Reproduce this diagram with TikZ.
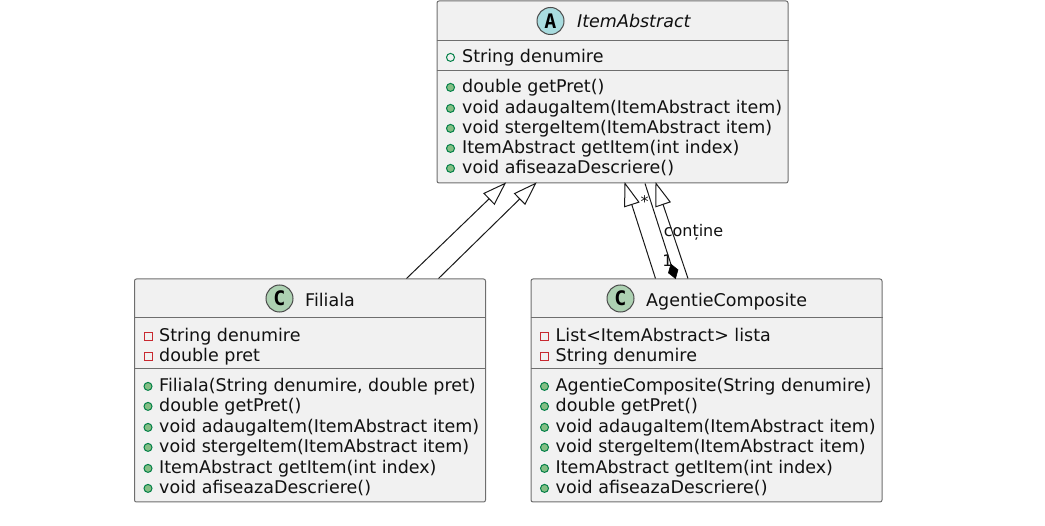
\documentclass[tikz,border=0pt]{standalone}
\usepackage{fontspec}
\setmainfont{DejaVu Sans}
\newfontfamily\iconfont{DejaVu Sans Mono}
\usetikzlibrary{calc}
\definecolor{boxfill}{HTML}{F1F1F1}
\definecolor{boxline}{HTML}{6E6E6E}
\definecolor{txt}{HTML}{111111}
\definecolor{pubc}{HTML}{038048}
\definecolor{pubf}{HTML}{84BE84}
\definecolor{privc}{HTML}{C82930}
\definecolor{iconc}{HTML}{ADD1B2}
\definecolor{icona}{HTML}{A9DCDF}
\newcommand{\rowfont}{\fontsize{17.5}{20}\selectfont}
\tikzset{
  x=1pt,y=-1pt,
  classbox/.style={draw=boxline,fill=boxfill,line width=1pt,rounded corners=2pt,inner sep=0pt,minimum width=351pt},
  divider/.style={draw=boxline,line width=1pt},
  rowtext/.style={anchor=base west,inner sep=0pt,text=txt,font=\rowfont},
  titletext/.style={anchor=base west,inner sep=0pt,text=txt,font=\rowfont},
  badge/.style={circle,draw=black!70,line width=1pt,minimum size=27pt,inner sep=0pt,font=\iconfont\bfseries\fontsize{20}{20}\selectfont},
  pubfield/.style={circle,draw=pubc,line width=1pt,minimum size=8pt,inner sep=0pt},
  pubmethod/.style={circle,draw=pubc,fill=pubf,line width=1pt,minimum size=8pt,inner sep=0pt},
  privfield/.style={rectangle,draw=privc,line width=1pt,minimum size=8pt,inner sep=0pt},
  link/.style={draw=black!90,line width=1pt},
  headshape/.style={draw=black!90,fill=white,line width=1pt,line join=miter},
  cardlabel/.style={inner sep=0pt,text=txt,font=\fontsize{16}{18}\selectfont},
}
% \rowitem{name}{icon style}{icon x}{text x}{baseline y}{text}
\newcommand{\rowitem}[6]{%
  \node[#2] (#1i) at (#3,#5-4.6) {};
  \node[rowtext] (#1) at (#4,#5+0.7) {#6};
}
% hollow triangle at end (tip) coming from (from)
\newcommand{\hollowhead}[2]{%
  \path[headshape] (#2) -- ($(#2)!22pt!(#1)!7.5pt!90:(#1)$) -- ($(#2)!22pt!(#1)!7.5pt!-90:(#1)$) -- cycle;
}
\begin{document}
\begin{tikzpicture}
\useasboundingbox (0,0) rectangle (1045,526);

% ---------- boxes
\node[classbox,minimum height=182pt] (item) at (612.5,92) {};
\node[classbox,minimum height=223pt] (fil) at (310,390.5) {};
\node[classbox,minimum height=223pt] (age) at (706.5,390.5) {};

\draw[divider] ($(item.north west)+(0,40.5)$) -- ($(item.north east)+(0,40.5)$);
\draw[divider] ($(item.north west)+(0,70)$) -- ($(item.north east)+(0,70)$);
\draw[divider] ($(fil.north west)+(0,39.5)$) -- ($(fil.north east)+(0,39.5)$);
\draw[divider] ($(fil.north west)+(0,90)$) -- ($(fil.north east)+(0,90)$);
\draw[divider] ($(age.north west)+(0,39.5)$) -- ($(age.north east)+(0,39.5)$);
\draw[divider] ($(age.north west)+(0,90)$) -- ($(age.north east)+(0,90)$);

% ---------- titles
\node[badge,fill=icona] (itemb) at (550.5,21) {A};
\node[titletext,font=\rowfont\itshape] (itemt) at (577,27.7) {ItemAbstract};
\node[badge,fill=iconc] (filb) at (279.5,298.5) {C};
\node[titletext] (filt) at (305,306.7) {Filiala};
\node[badge,fill=iconc] (ageb) at (620.5,298.5) {C};
\node[titletext] (aget) at (646,306.7) {AgentieComposite};

% ---------- ItemAbstract rows
\rowitem{ia}{pubfield}{450.5}{462}{62}{String denumire}
\rowitem{ib}{pubmethod}{450.5}{462}{92}{double getPret()}
\rowitem{ic}{pubmethod}{450.5}{462}{113}{void adaugaItem(ItemAbstract item)}
\rowitem{id}{pubmethod}{450.5}{462}{133}{void stergeItem(ItemAbstract item)}
\rowitem{ie}{pubmethod}{450.5}{462}{153}{ItemAbstract getItem(int index)}
\rowitem{if}{pubmethod}{450.5}{462}{173}{void afiseazaDescriere()}

% ---------- Filiala rows
\rowitem{fa}{privfield}{148}{159}{341}{String denumire}
\rowitem{fb}{privfield}{148}{159}{361}{double pret}
\rowitem{fc}{pubmethod}{148}{159}{391}{Filiala(String denumire, double pret)}
\rowitem{fd}{pubmethod}{148}{159}{411}{double getPret()}
\rowitem{fe}{pubmethod}{148}{159}{432}{void adaugaItem(ItemAbstract item)}
\rowitem{ff}{pubmethod}{148}{159}{452}{void stergeItem(ItemAbstract item)}
\rowitem{fg}{pubmethod}{148}{159}{473}{ItemAbstract getItem(int index)}
\rowitem{fh}{pubmethod}{148}{159}{493}{void afiseazaDescriere()}

% ---------- AgentieComposite rows
\rowitem{aa}{privfield}{544.5}{555.5}{341}{List<ItemAbstract> lista}
\rowitem{ab}{privfield}{544.5}{555.5}{361}{String denumire}
\rowitem{ac}{pubmethod}{544.5}{555.5}{391}{AgentieComposite(String denumire)}
\rowitem{ad}{pubmethod}{544.5}{555.5}{411}{double getPret()}
\rowitem{ae}{pubmethod}{544.5}{555.5}{432}{void adaugaItem(ItemAbstract item)}
\rowitem{af}{pubmethod}{544.5}{555.5}{452}{void stergeItem(ItemAbstract item)}
\rowitem{ag}{pubmethod}{544.5}{555.5}{473}{ItemAbstract getItem(int index)}
\rowitem{ah}{pubmethod}{544.5}{555.5}{493}{void afiseazaDescriere()}

% ---------- connector ends on the boxes
\coordinate (f1) at ($(fil.north west)+(272.5,0)$);
\coordinate (f2) at ($(fil.north west)+(304.5,0)$);
\coordinate (t1) at ($(item.south west)+(68.5,0)$);
\coordinate (t2) at ($(item.south west)+(99,0)$);
\coordinate (a1) at ($(age.north west)+(125,0)$);
\coordinate (a2) at ($(age.north west)+(157.5,0)$);
\coordinate (a3) at ($(age.north west)+(145,0)$);
\coordinate (t3) at ($(item.south west)+(188.5,0)$);
\coordinate (t4) at ($(item.south west)+(219.5,0)$);
\coordinate (t5) at ($(item.south west)+(208.5,0)$);

% ---------- generalisations
\draw[link] (f1) -- (t1);
\hollowhead{f1}{t1}
\draw[link] (f2) -- (t2);
\hollowhead{f2}{t2}
\draw[link] (a1) -- (t3);
\hollowhead{a1}{t3}
\draw[link] (a2) -- (t4);
\hollowhead{a2}{t4}

% ---------- composition
\draw[link] (t5) -- (a3);
\path[draw=black,fill=black,line width=0.6pt,line join=miter]
  (a3) -- ($(a3)!7.5pt!(t5)!5pt!90:(t5)$) -- ($(a3)!15pt!(t5)$) -- ($(a3)!7.5pt!(t5)!5pt!-90:(t5)$) -- cycle;

% ---------- labels
\node[cardlabel] (star) at (644.5,202) {*};
\node[cardlabel] (one) at (667.5,260.5) {1};
\node[cardlabel] (cont) at (693.5,232) {conține};
\end{tikzpicture}
\end{document}
